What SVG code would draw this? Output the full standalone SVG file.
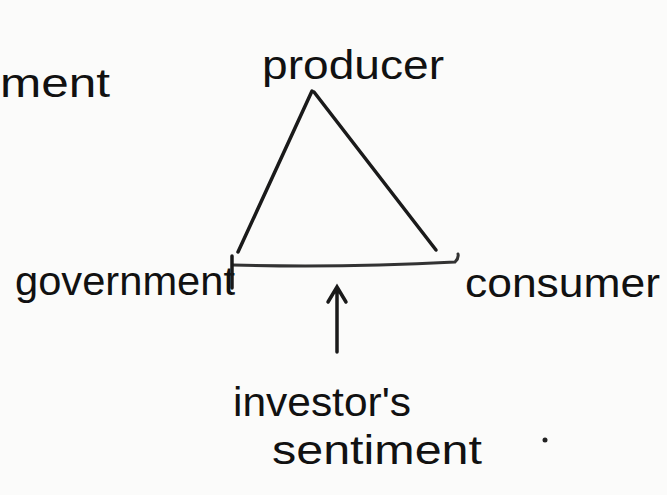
<svg xmlns="http://www.w3.org/2000/svg" width="667" height="495" viewBox="0 0 667 495">
<style>
text{font-family:"Liberation Sans","DejaVu Sans",sans-serif;fill:#111;font-size:40px}
.ln{stroke:#1a1a1a;stroke-width:3.5;fill:none;stroke-linecap:round}
.base{stroke:#333;stroke-width:3;fill:none;stroke-linecap:round}
</style>
<rect width="667" height="495" fill="#fbfbfa"/>
<g id="partial"><text x="0" y="97" textLength="110" lengthAdjust="spacingAndGlyphs">ment</text></g>
<g id="producer"><text x="262" y="79" textLength="182" lengthAdjust="spacingAndGlyphs">producer</text></g>
<g id="government"><text x="15" y="295" textLength="220" lengthAdjust="spacingAndGlyphs">government</text></g>
<g id="consumer"><text x="465" y="297" textLength="195" lengthAdjust="spacingAndGlyphs">consumer</text></g>
<g id="investors"><text x="233" y="416" textLength="178" lengthAdjust="spacingAndGlyphs">investor's</text><text x="272" y="464" textLength="210" lengthAdjust="spacingAndGlyphs">sentiment</text></g>
<g id="connectors">
<path class="ln" d="M312 91 L238 252"/>
<path class="ln" d="M314 92 L436 250"/>
<path class="base" d="M233 265 Q340 268 455 262 Q459 258 458 254"/>
<path class="ln" d="M232 256 L232 288"/>
<path class="ln" d="M337 352 L337 288 M328 302 L337 287 L346 302"/>
</g>
<circle cx="545" cy="440" r="2.5" fill="#222"/>
</svg>
